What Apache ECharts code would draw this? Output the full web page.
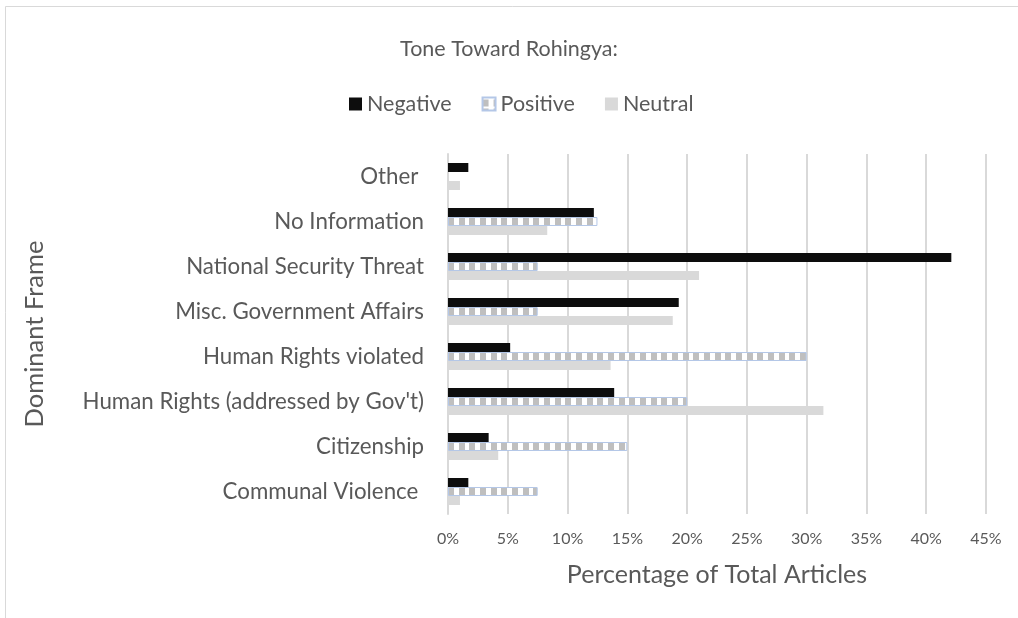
<!DOCTYPE html>
<html>
<head>
<meta charset="utf-8">
<title>Tone Toward Rohingya</title>
<script src="https://cdn.jsdelivr.net/npm/echarts@6/dist/echarts.min.js"></script>
<style>
  html, body { margin: 0; padding: 0; background: #ffffff; }
  #chart { width: 1018px; height: 618px; }
</style>
</head>
<body>
<div id="chart"></div>
<script>
// Dominant frames, listed top to bottom
const categories = [
  'Other ',
  'No Information',
  'National Security Threat',
  'Misc. Government Affairs',
  'Human Rights violated',
  "Human Rights (addressed by Gov't)",
  'Citizenship',
  'Communal Violence '
];

// Share of total articles (%) per tone
const negativeValues = [1.7, 12.2, 42.1, 19.3, 5.2, 13.9, 3.4, 1.7];
const positiveValues = [0, 12.5, 7.5, 7.5, 30, 20, 15, 7.5];
const neutralValues  = [1.0, 8.3, 21.0, 18.8, 13.6, 31.4, 4.2, 1.0];

const seriesNames = ['Negative', 'Positive', 'Neutral'];
const xTicks = [0, 5, 10, 15, 20, 25, 30, 35, 40, 45];

// Layout constants
const GRID_LEFT = 448, GRID_RIGHT = 32, GRID_TOP = 154, GRID_HEIGHT = 360;
const BAR_W = 9;
const BAND = GRID_HEIGHT / categories.length;
const TEXT = '#595959';
const FONT = 'Lato, "Open Sans", sans-serif';

// Checked fill for the positive bars: grey blocks on white, aligned with the bar rows
function makeCheckPattern() {
  const c = document.createElement('canvas');
  c.width = 32; c.height = 9;
  const g = c.getContext('2d');
  g.fillStyle = '#ffffff';
  g.fillRect(0, 0, 32, 9);
  // first pixel row of the positive bar within the 9px repeat
  const barTop = GRID_TOP + (BAND - 3 * BAR_W) / 2 + BAR_W;
  const r0 = ((barTop % 9) + 9) % 9;
  g.fillStyle = '#bfbfbf';
  const starts = [0, 11, 21];
  for (let k = 1; k <= 7; k++) {
    const row = (r0 + k) % 9;
    starts.forEach(function (s) {
      const sx = ((s + GRID_LEFT) % 32 + 32) % 32;
      g.fillRect(sx, row, 6, 1);
      if (sx + 6 > 32) g.fillRect(sx - 32, row, 6, 1);
    });
  }
  return c;
}

const chart = echarts.init(document.getElementById('chart'), null, { renderer: 'canvas' });

const positiveData = positiveValues.map(function (v) {
  return v === 0 ? { value: v, itemStyle: { borderWidth: 0 } } : v;
});

const option = {
  backgroundColor: '#ffffff',
  animation: false,
  textStyle: { fontFamily: FONT },
  graphic: [{
    type: 'rect',
    silent: true,
    shape: { x: 5.5, y: 6.5, width: 1100, height: 700 },
    style: { fill: 'none', stroke: '#d9d9d9', lineWidth: 1 }
  }],
  title: {
    text: 'Tone Toward Rohingya:',
    left: 'center',
    top: 33,
    textStyle: { color: TEXT, fontSize: 21.5, fontWeight: 'normal', fontFamily: FONT }
  },
  legend: {
    data: seriesNames,
    top: 88,
    left: 344,
    itemWidth: 13,
    itemHeight: 13,
    itemGap: 30,
    icon: 'rect',
    textStyle: { color: TEXT, fontSize: 21.5, fontFamily: FONT }
  },
  grid: {
    left: GRID_LEFT,
    right: GRID_RIGHT,
    top: GRID_TOP,
    height: GRID_HEIGHT,
    containLabel: false
  },
  xAxis: {
    type: 'value',
    min: xTicks[0],
    max: xTicks[xTicks.length - 1],
    interval: 5,
    name: 'Percentage of Total Articles',
    nameLocation: 'middle',
    nameGap: 48,
    nameTextStyle: { color: TEXT, fontSize: 25, fontFamily: FONT },
    axisLine: { show: false },
    axisTick: { show: false },
    axisLabel: {
      color: TEXT, fontSize: 16, margin: 17, fontFamily: FONT,
      formatter: function (v) { return v + '%'; }
    },
    splitLine: { show: true, lineStyle: { color: '#d9d9d9', width: 2 } }
  },
  yAxis: {
    type: 'category',
    data: categories,
    inverse: true,
    name: 'Dominant Frame',
    nameLocation: 'middle',
    nameGap: 400,
    nameTextStyle: { color: TEXT, fontSize: 25.5, fontFamily: FONT },
    axisLine: { show: true, lineStyle: { color: '#d9d9d9', width: 2 } },
    axisTick: { show: false },
    axisLabel: { color: TEXT, fontSize: 22.3, margin: 24, fontFamily: FONT }
  },
  series: [
    {
      name: seriesNames[0],
      type: 'bar',
      barWidth: BAR_W,
      barGap: '0%',
      data: negativeValues,
      itemStyle: { color: '#0d0d0d' }
    },
    {
      name: seriesNames[1],
      type: 'bar',
      barWidth: BAR_W,
      barGap: '0%',
      data: positiveData,
      itemStyle: {
        color: { image: makeCheckPattern(), repeat: 'repeat' },
        borderColor: '#b4c7e7',
        borderWidth: 1
      }
    },
    {
      name: seriesNames[2],
      type: 'bar',
      barWidth: BAR_W,
      barGap: '0%',
      data: neutralValues,
      itemStyle: { color: '#d9d9d9' }
    }
  ]
};

chart.setOption(option);
</script>
</body>
</html>
